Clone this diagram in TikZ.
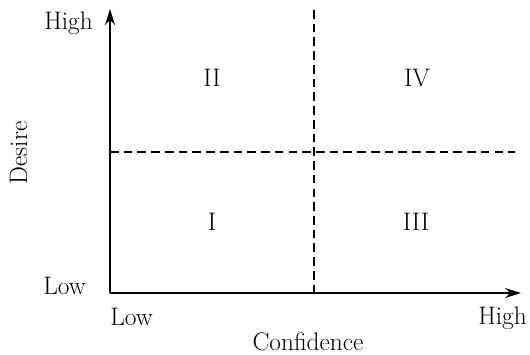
\documentclass[tikz,border=0pt]{standalone}
\usetikzlibrary{arrows.meta}
\begin{document}
\begin{tikzpicture}[x=0.75pt,y=-0.75pt,
  lab/.style={font=\fontsize{19}{22}\selectfont, inner sep=0pt, anchor=base},
  axis/.style={line width=1.5pt, -{Stealth[length=12pt,width=7.5pt,inset=4pt]}},
  divider/.style={line width=0.8pt, dash pattern=on 6.5pt off 3.8pt}]
\useasboundingbox (0,0) rectangle (530,354);
\coordinate (O) at (110,293);
\coordinate (ytop) at (110,9);
\coordinate (xend) at (521,293);
\coordinate (vtop) at (314,10);
\coordinate (vbot) at (314,293);
\coordinate (hl) at (110,152);
\coordinate (hr) at (515,152);
\draw[divider] (vtop) -- (vbot);
\draw[divider] (hl) -- (hr);
\draw[axis] (O) -- (ytop);
\draw[axis] (O) -- (xend);
\node[lab] (yhigh) at (68.5,29) {High};
\node[lab] (ylow) at (64.5,294) {Low};
\node[lab] (xlow) at (131.5,325) {Low};
\node[lab] (xhigh) at (502.5,324) {High};
\node[lab] (xlab) at (308,350) {Confidence};
\node[lab, rotate=90] (ylab) at (27,153) {Desire};
\node[lab] (q2) at (212,86) {II};
\node[lab] (q4) at (417,86) {IV};
\node[lab] (q1) at (212,230) {I};
\node[lab] (q3) at (416,230) {III};
\end{tikzpicture}
\end{document}
